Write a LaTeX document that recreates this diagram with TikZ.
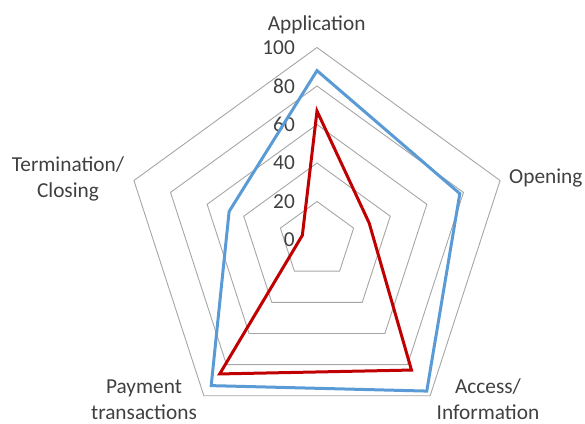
\documentclass[tikz,border=0pt]{standalone}
\usepackage{fontspec}
\setmainfont{Carlito}
\usetikzlibrary{calc}
\definecolor{gridgray}{HTML}{A6A6A6}
\definecolor{txtgray}{HTML}{404040}
\definecolor{serblue}{HTML}{5B9BD5}
\definecolor{serred}{HTML}{C00000}
\begin{document}
\begin{tikzpicture}[x=1bp,y=1bp,
  lbl/.style={text=txtgray,font=\fontsize{21.4pt}{25.5pt}\selectfont,inner sep=0pt},
  ring/.style={draw=gridgray,line width=0.9bp},
  serline/.style={line width=3bp,line join=miter}]
\useasboundingbox (0,-423) rectangle (585,0);
\coordinate (c) at (317,-240);
\def\u{1.925}
% rings
\foreach \k in {20,40,60,80,100}{
  \draw[ring] ($(c)+(90:\k*\u)$) -- ($(c)+(18:\k*\u)$) -- ($(c)+(-54:\k*\u)$) -- ($(c)+(-126:\k*\u)$) -- ($(c)+(162:\k*\u)$) -- cycle;
}
% numbers
\foreach \k in {0,20,40,60,80,100}{
  \node[lbl,anchor=east] (n\k) at ($(c)+(-22,\k*\u)$) {\k};
}
% blue series
\draw[serline,draw=serblue] ($(c)+(90:88*\u)$) -- ($(c)+(18:78*\u)$) -- ($(c)+(-54:97*\u)$) -- ($(c)+(-126:93.5*\u)$) -- ($(c)+(162:48*\u)$) -- cycle;
% red series
\draw[serline,draw=serred] ($(c)+(90:67*\u)$) -- ($(c)+(18:28.5*\u)$) -- ($(c)+(-54:83.5*\u)$) -- ($(c)+(-126:86*\u)$) -- ($(c)+(162:8*\u)$) -- cycle;
% category labels
\node[lbl,anchor=base] (app) at (316.7,-30.7) {Application};
\node[lbl,anchor=base west] (open) at (509,-183.3) {Opening};
\node[lbl,anchor=base,align=center] (term) at (68,-197) {Termination/\\Closing};
\node[lbl,anchor=base,align=center] (pay) at (144,-419.3) {Payment\\transactions};
\node[lbl,anchor=base,align=center] (acc) at (488,-419.3) {Access/\\Information};
\end{tikzpicture}
\end{document}
